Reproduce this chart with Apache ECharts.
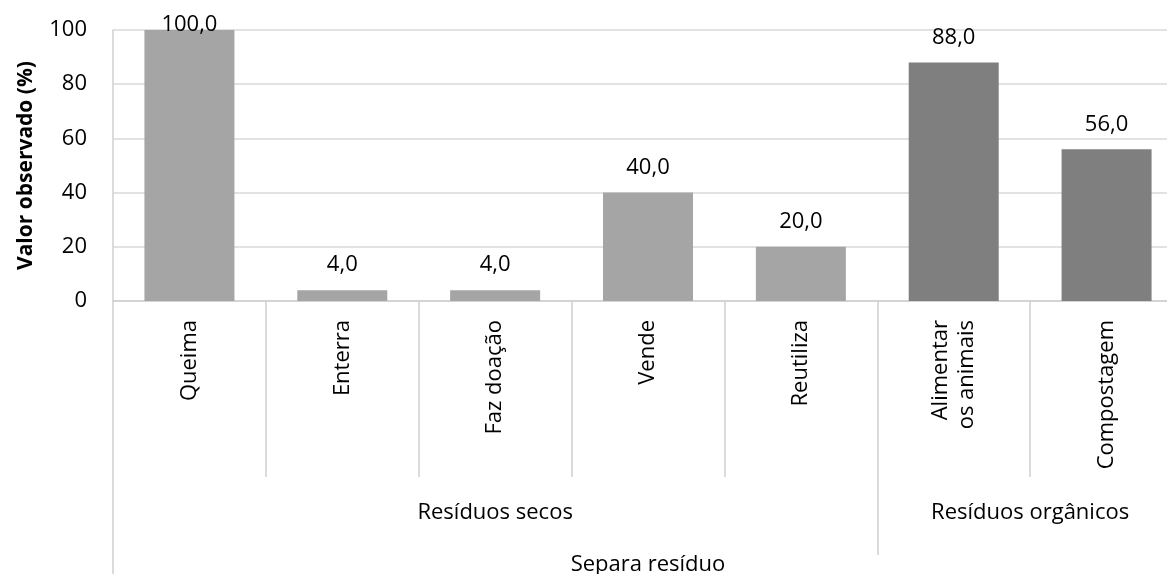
<!DOCTYPE html>
<html>
<head>
<meta charset="utf-8">
<script src="https://cdn.jsdelivr.net/npm/echarts@6/dist/echarts.min.js"></script>
<style>
html,body{margin:0;padding:0;background:#fff;}
#chart{width:1167px;height:574px;}
</style>
</head>
<body>
<div id="chart"></div>
<script>
const categories = ['Queima', 'Enterra', 'Faz doação', 'Vende', 'Reutiliza', 'Alimentar\nos animais', 'Compostagem'];
const values = [100, 4, 4, 40, 20, 88, 56];
const groups = ['Resíduos secos', 'Resíduos orgânicos'];
const groupSizes = [5, 2];
const outerTitle = 'Separa resíduo';
const yTitle = 'Valor observado (%)';
const yMin = 0, yMax = 100, yStep = 20;

const groupColors = ['#a5a5a5', '#7f7f7f'];
const FONT = 'Open Sans';
const TXT = '#000';
const LINE = '#d0d0d0';

// group index per category
const catGroup = [];
groupSizes.forEach((n, g) => { for (let k = 0; k < n; k++) catGroup.push(g); });

// half-step group axis (boundaryGap false): 2*N+1 points
const N = categories.length;
const groupAxisData = new Array(2 * N + 1).fill('');
const groupBounds = new Set();
let s = 0;
groupSizes.forEach((n, g) => {
  groupAxisData[2 * s + n] = groups[g];
  groupBounds.add(2 * s); groupBounds.add(2 * (s + n));
  s += n;
});

const chart = echarts.init(document.getElementById('chart'));
chart.setOption({
  animation: false,
  backgroundColor: '#fff',
  textStyle: { fontFamily: FONT },
  grid: { left: 113, top: 30, width: 1070, height: 271, containLabel: false, outerBoundsMode: 'none' },
  xAxis: [
    {
      type: 'category', data: categories, position: 'bottom',
      axisLine: { show: true, lineStyle: { color: LINE, width: 1.5 } },
      axisTick: { show: true, interval: 0, length: 176, lineStyle: { color: LINE, width: 1.5 } },
      axisLabel: { interval: 0, rotate: 90, margin: 19, color: TXT, fontFamily: FONT, fontSize: 22, lineHeight: 26 }
    },
    {
      type: 'category', data: groupAxisData, position: 'bottom', offset: 176, boundaryGap: false,
      axisLine: { show: false },
      axisTick: { show: true, interval: (i) => groupBounds.has(i), length: 78, lineStyle: { color: LINE, width: 1.5 } },
      axisLabel: { interval: (i, v) => v !== '', margin: 23, color: TXT, fontFamily: FONT, fontSize: 22, lineHeight: 26 }
    },
    {
      type: 'category', data: ['', outerTitle, ''], position: 'bottom', offset: 254, boundaryGap: false,
      axisLine: { show: false },
      axisTick: { show: true, interval: (i) => i !== 1, length: 30, lineStyle: { color: LINE, width: 1.5 } },
      axisLabel: { interval: (i, v) => v !== '', margin: -3, color: TXT, fontFamily: FONT, fontSize: 22, lineHeight: 26 }
    }
  ],
  yAxis: {
    type: 'value', min: yMin, max: yMax, interval: yStep,
    name: yTitle, nameLocation: 'middle', nameGap: 76, nameRotate: 90,
    nameTextStyle: { color: TXT, fontFamily: FONT, fontSize: 21, fontWeight: 'bold' },
    axisLine: { show: true, lineStyle: { color: LINE, width: 1.5 } },
    axisTick: { show: false },
    axisLabel: { color: TXT, fontFamily: FONT, fontSize: 22, margin: 26 },
    splitLine: { lineStyle: { color: '#d9d9d9', width: 1.5 } }
  },
  series: [{
    type: 'bar', xAxisIndex: 0, barWidth: 90,
    data: values.map((v, i) => ({
      value: v,
      itemStyle: { color: groupColors[catGroup[i]] },
      label: v >= yMax ? { offset: [0, 20] } : undefined
    })),
    label: {
      show: true, position: 'top', distance: 14, color: TXT, fontFamily: FONT, fontSize: 22,
      formatter: (p) => p.value.toFixed(1).replace('.', ',')
    }
  }]
});
</script>
</body>
</html>
